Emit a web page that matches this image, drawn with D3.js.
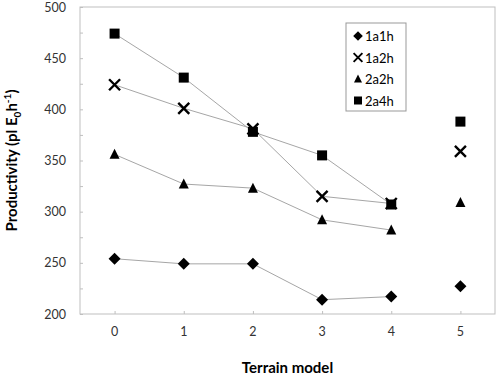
<!DOCTYPE html>
<html>
<head>
<meta charset="utf-8">
<script src="https://cdn.jsdelivr.net/npm/d3@7"></script>
<style>
  body { margin: 0; background: #fff; }
  text { font-family: Lato, "Open Sans", sans-serif; }
</style>
</head>
<body>
<script>
var models = [0, 1, 2, 3, 4, 5];
var series = ["1a1h", "1a2h", "2a2h", "2a4h"];
var v1a1h = [254, 249, 249, 214, 217, 227];
var v1a2h = [424, 401, 381, 315, 308, 359];
var v2a2h = [356, 327, 323, 292, 282, 309];
var v2a4h = [474, 431, 378, 355, 307, 388];
var yTicks = [200, 250, 300, 350, 400, 450, 500];

var w = 500, h = 378;
var svg = d3.select("body").append("svg")
    .attr("width", w)
    .attr("height", h);

var pLeft = 80, pRight = 495, pTop = 7, pBottom = 314;

var x = d3.scaleLinear().domain([-0.5, 5.5]).range([pLeft, pRight]);
var y = d3.scaleLinear().domain([200, 500]).range([pBottom, pTop]);

//plot frame
svg.append("rect")
    .attr("x", pLeft).attr("y", pTop)
    .attr("width", pRight - pLeft).attr("height", pBottom - pTop)
    .style("fill", "none")
    .style("stroke", "#bfbfbf");

//y axis with minor ticks inside
var yAxis = d3.axisRight(y).tickValues(d3.range(200, 501, 25)).tickSize(3).tickFormat("");
svg.append("g").attr("transform", "translate(" + pLeft + ",0)").call(yAxis)
    .call(function(g){ g.select(".domain").remove(); })
    .selectAll("line").style("stroke", "#bfbfbf");

svg.append("g").selectAll("text")
    .data(yTicks)
    .enter().append("text")
    .attr("x", 66)
    .attr("y", function(d){ return y(d) + 4.5; })
    .attr("text-anchor", "end")
    .style("font-size", "12.5px")
    .style("fill", "#333")
    .text(function(d){ return d; });

//x axis
var xAxis = d3.axisTop(x).tickValues(models).tickSize(3).tickFormat("");
svg.append("g").attr("transform", "translate(0," + pBottom + ")").call(xAxis)
    .call(function(g){ g.select(".domain").remove(); })
    .selectAll("line").style("stroke", "#bfbfbf");

svg.append("g").selectAll("text")
    .data(models)
    .enter().append("text")
    .attr("x", function(d){ return x(d); })
    .attr("y", 336)
    .attr("text-anchor", "middle")
    .style("font-size", "12.5px")
    .style("fill", "#333")
    .text(function(d){ return d; });

//axis titles
svg.append("text")
    .attr("x", (pLeft + pRight) / 2)
    .attr("y", 373)
    .attr("text-anchor", "middle")
    .style("font-size", "15px")
    .style("font-weight", "bold")
    .text("Terrain model");

var yt = svg.append("text")
    .attr("transform", "translate(17," + ((pTop + pBottom) / 2) + ") rotate(-90)")
    .attr("text-anchor", "middle")
    .style("font-size", "15px")
    .style("font-weight", "bold");
yt.append("tspan").text("Productivity (pl E");
yt.append("tspan").attr("dy", 4).style("font-size", "10px").text("0");
yt.append("tspan").attr("dy", -4).text("h");
yt.append("tspan").attr("dy", -6).style("font-size", "10px").text("-1");
yt.append("tspan").attr("dy", 6).text(")");

var data = [v1a1h, v1a2h, v2a2h, v2a4h];

//connecting lines, models 0-4
var line = d3.line()
    .x(function(d, i){ return x(models[i]); })
    .y(function(d){ return y(d); });

svg.selectAll(".lines")
    .data(data)
    .enter().append("path")
    .attr("class", "lines")
    .attr("d", function(d){ return line(d.slice(0, 5)); })
    .style("fill", "none")
    .style("stroke", "#a6a6a6")
    .style("stroke-width", 1);

//marker drawing
function marker(g, k){
    if (k === 0) {
        g.append("path").attr("d", "M0,-6L6,0L0,6L-6,0Z").style("fill", "#000");
    } else if (k === 1) {
        g.append("path").attr("d", "M-5.5,-5.5L5.5,5.5M-5.5,5.5L5.5,-5.5")
            .style("stroke", "#000").style("stroke-width", 2.4).style("fill", "none");
    } else if (k === 2) {
        g.append("path").attr("d", "M0,-5.5L5,4.5L-5,4.5Z").style("fill", "#000");
    } else {
        g.append("rect").attr("x", -5).attr("y", -5).attr("width", 10).attr("height", 10).style("fill", "#000");
    }
}

data.forEach(function(vals, k){
    vals.forEach(function(v, i){
        var g = svg.append("g").attr("transform", "translate(" + x(models[i]) + "," + y(v) + ")");
        marker(g, k);
    });
});

//legend
var lg = svg.append("g").attr("transform", "translate(346,23)");
lg.append("rect")
    .attr("width", 60).attr("height", 88)
    .style("fill", "#fff")
    .style("stroke", "#999");
series.forEach(function(s, k){
    var row = lg.append("g").attr("transform", "translate(12," + (13 + k * 21.5) + ")");
    var m = row.append("g").attr("transform", "scale(0.8)");
    marker(m, k);
    row.append("text")
        .attr("x", 7)
        .attr("y", 5)
        .style("font-size", "13px")
        .style("fill", "#000")
        .text(s);
});
</script>
</body>
</html>
